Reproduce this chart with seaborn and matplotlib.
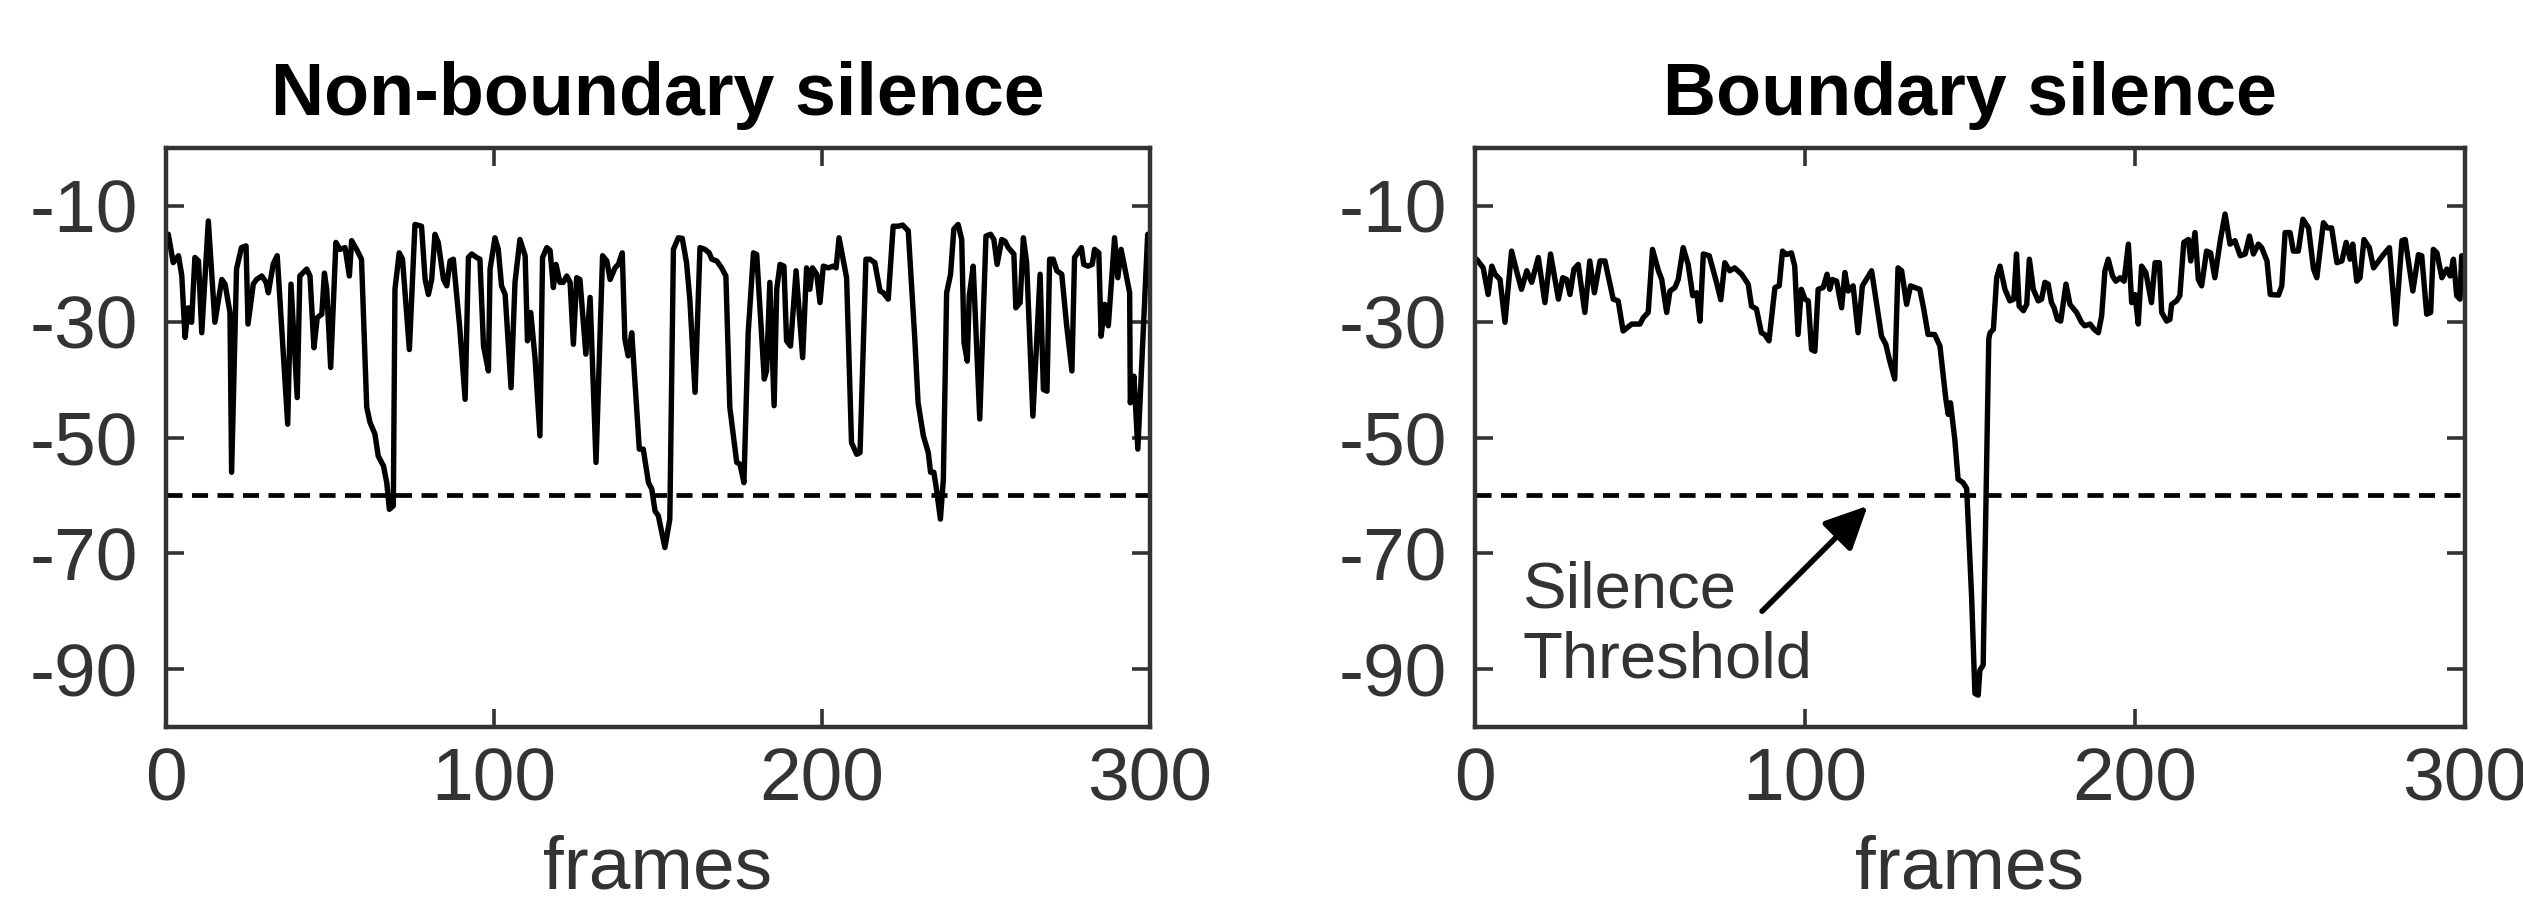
import numpy as np
import pandas as pd
import matplotlib
matplotlib.use("Agg")
import matplotlib.pyplot as plt
import seaborn as sns

# frame index / energy (dB)
nb_frames = [0.7, 2.2, 3.8, 4.8, 5.8, 6.8, 7.8, 8.8, 9.9, 10.9, 12.9, 14.9, 17.0, 18.0, 19.5, 20.0,
             21.5, 23.0, 24.4, 25.0, 26.6, 27.6, 29.2, 30.5, 31.2, 32.7, 33.9, 37.1, 38.1, 40.0,
             40.8, 42.9, 43.9, 45.1, 46.1, 47.5, 48.3, 49.0, 50.2, 51.8, 53.0, 54.6, 55.9, 56.6,
             58.1, 59.6, 61.2, 62.2, 63.7, 64.7, 66.3, 67.3, 68.1, 69.3, 69.8, 71.1, 72.1, 74.2,
             75.9, 77.9, 79.0, 80.0, 81.0, 82.0, 83.0, 84.6, 85.6, 86.6, 87.6, 89.6, 91.2, 92.2,
             93.2, 94.7, 95.7, 96.8, 98.3, 98.8, 100.3, 101.3, 102.3, 103.4, 105.2, 106.4, 107.9,
             109.5, 110.2, 111.2, 112.5, 114.0, 114.8, 116.1, 117.1, 118.1, 118.9, 120.1, 121.1,
             122.2, 123.2, 124.2, 125.2, 126.2, 128.0, 129.3, 131.1, 133.1, 134.4, 135.4, 136.9,
             137.9, 139.1, 139.9, 140.9, 142.0, 144.3, 145.5, 147.1, 148.1, 149.1, 150.1, 152.1,
             153.6, 154.7, 156.2, 157.4, 158.7, 159.7, 161.3, 162.8, 164.3, 165.6, 166.4, 167.9,
             169.4, 170.7, 171.9, 174.0, 175.0, 176.2, 177.5, 179.1, 180.1, 182.4, 183.1, 184.1,
             185.4, 186.2, 187.2, 188.4, 189.2, 190.4, 192.1, 194.1, 195.3, 196.3, 197.1, 198.4,
             199.4, 200.4, 201.9, 203.4, 204.3, 205.2, 207.5, 209.0, 210.6, 211.6, 213.4, 214.6,
             216.1, 217.7, 218.7, 220.2, 221.7, 223.3, 224.6, 226.3, 228.3, 229.3, 230.9, 232.4,
             233.1, 234.1, 234.9, 236.1, 237.0, 238.0, 239.2, 240.2, 241.5, 242.6, 243.3, 244.3,
             244.9, 246.1, 248.1, 250.0, 251.4, 252.4, 253.4, 254.8, 255.8, 256.8, 258.5, 259.1,
             260.4, 261.4, 262.4, 264.3, 266.5, 267.5, 268.6, 269.4, 270.5, 271.6, 273.1, 274.6,
             276.2, 277.0, 279.1, 279.8, 281.1, 282.4, 283.1, 284.4, 285.1, 286.2, 287.3, 289.2,
             290.2, 291.2, 293.8, 294.0, 295.1, 296.3, 299.3, 300.0]
nb_db = [-14.9, -19.8, -18.6, -22.0, -32.7, -27.6, -30.1, -18.9, -19.5, -31.9, -12.6, -30.1, -22.7,
         -23.5, -28.4, -56.0, -20.9, -17.2, -16.9, -30.4, -23.5, -22.7, -22.1, -23.2, -25.0, -20.0,
         -18.6, -47.7, -23.5, -43.1, -22.1, -20.9, -22.1, -34.5, -29.3, -28.7, -21.6, -24.4, -37.9,
         -16.3, -17.5, -17.2, -22.1, -16.0, -17.5, -19.2, -44.8, -47.4, -49.4, -53.2, -54.9, -57.8,
         -62.4, -61.8, -24.4, -18.1, -19.2, -34.8, -13.2, -13.5, -22.7, -25.3, -22.7, -14.9, -16.3,
         -22.7, -23.8, -19.5, -19.2, -31.3, -43.4, -18.9, -18.3, -18.9, -19.2, -34.2, -38.5, -20.9,
         -15.5, -17.5, -23.8, -25.3, -41.4, -23.2, -15.8, -18.6, -33.3, -28.4, -36.2, -49.7, -18.9,
         -17.2, -17.7, -24.1, -20.1, -23.2, -23.2, -22.1, -23.2, -33.9, -22.4, -22.7, -35.6, -25.8,
         -54.3, -18.6, -19.5, -22.7, -20.7, -20.1, -18.1, -33.0, -35.9, -31.9, -52.0, -52.0, -57.8,
         -58.9, -62.7, -63.5, -69.0, -64.1, -17.5, -15.5, -15.6, -19.8, -26.1, -42.2, -17.2, -17.5,
         -18.1, -19.2, -19.5, -20.7, -22.1, -44.8, -54.3, -54.6, -57.8, -31.9, -18.1, -18.4, -39.9,
         -38.5, -23.2, -44.5, -24.4, -20.1, -20.4, -33.3, -34.2, -21.2, -36.2, -20.7, -24.4, -20.7,
         -21.8, -26.7, -20.4, -20.7, -20.4, -20.7, -15.5, -22.4, -50.9, -52.9, -52.6, -19.2, -19.2,
         -19.8, -24.7, -25.0, -26.1, -13.5, -13.5, -13.3, -14.3, -33.0, -44.0, -49.7, -52.6, -56.0,
         -56.0, -58.9, -64.1, -57.2, -25.0, -21.8, -14.0, -13.2, -15.8, -33.6, -36.8, -25.5, -20.4,
         -46.8, -15.2, -14.9, -15.8, -20.1, -15.8, -16.1, -17.2, -18.3, -27.6, -26.7, -15.5, -19.8,
         -46.3, -21.8, -41.7, -42.0, -19.2, -19.2, -21.2, -21.8, -30.7, -38.5, -18.9, -17.2, -20.1,
         -20.4, -20.1, -17.5, -18.1, -32.5, -27.0, -30.7, -15.5, -22.4, -17.5, -25.0, -44.0, -39.4,
         -52.0, -14.9, -16.0]

b_frames = [0.5, 2.5, 4.0, 5.1, 6.1, 7.6, 9.1, 11.1, 12.6, 14.1, 15.7, 17.2, 19.2, 21.2, 22.9, 25.3,
            26.6, 27.8, 28.8, 30.0, 31.3, 33.3, 34.8, 36.2, 37.9, 39.4, 41.9, 43.4, 44.9, 47.5,
            50.0, 51.0, 52.5, 53.8, 55.6, 56.6, 58.1, 59.1, 60.6, 61.6, 63.1, 64.6, 66.0, 67.2,
            68.2, 69.2, 71.0, 73.2, 74.5, 75.7, 77.2, 78.7, 80.8, 82.8, 83.8, 85.3, 86.8, 87.8,
            89.1, 90.9, 92.2, 93.2, 94.4, 95.9, 96.9, 97.9, 98.9, 100.0, 101.0, 102.0, 103.0,
            104.0, 105.5, 106.7, 107.5, 108.3, 109.6, 111.1, 112.1, 113.1, 114.6, 116.1, 117.4,
            118.6, 120.2, 121.5, 123.2, 124.5, 125.7, 127.2, 128.2, 129.3, 130.8, 132.0, 133.3,
            134.8, 136.0, 137.3, 139.3, 140.9, 142.7, 143.4, 144.1, 145.4, 146.4, 147.9, 149.0,
            150.5, 151.5, 152.5, 153.0, 154.0, 155.7, 156.1, 157.1, 158.1, 159.1, 160.6, 162.1,
            163.3, 164.1, 164.9, 166.2, 167.2, 168.0, 169.2, 170.7, 171.7, 172.7, 173.7, 174.7,
            175.5, 176.5, 177.5, 179.1, 180.3, 182.3, 183.8, 184.8, 186.4, 187.6, 188.9, 189.9,
            190.9, 191.9, 193.2, 194.2, 195.5, 196.7, 198.0, 199.0, 200.0, 201.0, 202.0, 203.3,
            205.0, 206.1, 207.4, 208.1, 209.6, 210.6, 211.1, 212.6, 213.6, 214.8, 216.2, 216.9,
            218.2, 219.2, 220.2, 221.7, 222.9, 224.2, 225.9, 227.3, 228.8, 230.3, 231.9, 233.4,
            234.7, 235.9, 237.4, 238.4, 240.0, 241.0, 243.5, 244.5, 245.5, 247.0, 248.0, 249.5,
            250.9, 252.6, 254.1, 255.1, 257.1, 258.3, 259.6, 261.2, 262.7, 264.0, 265.2, 266.0,
            267.2, 268.2, 269.4, 271.0, 272.3, 275.3, 277.1, 279.0, 280.9, 281.9, 284.2, 285.9,
            286.9, 288.4, 289.6, 290.4, 291.5, 293.0, 294.5, 295.5, 296.5, 297.5, 298.5, 299.0,
            300.0]
b_db = [-19.2, -20.7, -25.3, -20.4, -21.8, -22.7, -30.1, -17.8, -21.2, -24.4, -21.2, -23.2, -18.9,
        -26.7, -18.3, -26.1, -22.4, -22.7, -25.3, -20.9, -20.1, -28.4, -19.5, -25.0, -19.5, -19.5,
        -26.1, -26.4, -31.6, -30.4, -30.4, -29.3, -28.4, -17.5, -21.2, -22.7, -28.4, -24.7, -24.1,
        -22.7, -17.2, -20.1, -25.5, -25.0, -29.9, -18.3, -18.6, -23.2, -26.2, -19.8, -21.2, -20.7,
        -21.8, -23.5, -27.3, -27.8, -31.9, -32.2, -33.3, -24.1, -23.8, -17.8, -18.4, -18.1, -20.4,
        -32.2, -24.4, -26.1, -26.4, -34.8, -35.1, -24.4, -24.1, -21.8, -24.4, -22.7, -23.0, -27.6,
        -21.5, -24.7, -23.8, -31.9, -23.8, -22.7, -21.2, -26.1, -32.5, -33.9, -36.8, -39.9, -20.7,
        -21.2, -27.0, -23.8, -24.1, -24.4, -27.8, -32.2, -32.2, -34.2, -43.4, -46.0, -44.0, -50.3,
        -57.2, -57.8, -58.8, -77.5, -94.2, -94.5, -90.2, -89.3, -33.0, -31.9, -31.3, -22.4, -20.4,
        -24.4, -26.4, -26.1, -18.3, -27.3, -28.1, -27.0, -19.2, -24.4, -26.4, -26.1, -23.2, -23.5,
        -26.7, -27.6, -29.6, -29.9, -23.5, -27.0, -28.4, -30.1, -30.7, -30.4, -31.3, -31.9, -29.0,
        -21.2, -19.2, -22.1, -23.0, -22.4, -23.0, -16.6, -26.7, -25.3, -30.4, -20.4, -21.5, -26.7,
        -19.8, -19.8, -28.4, -29.9, -29.6, -27.0, -26.4, -25.5, -16.3, -15.8, -19.5, -14.6, -22.7,
        -23.8, -17.8, -18.1, -22.4, -15.8, -11.4, -16.6, -16.0, -18.6, -18.3, -15.2, -18.3, -16.6,
        -17.2, -19.5, -25.3, -25.4, -23.8, -14.6, -14.6, -17.8, -17.8, -12.3, -13.8, -20.9, -22.4,
        -12.9, -13.8, -13.8, -19.8, -19.5, -16.3, -19.2, -16.6, -23.0, -22.4, -15.8, -17.2, -20.7,
        -18.4, -17.2, -30.4, -16.0, -15.8, -24.7, -18.4, -18.6, -28.7, -28.4, -17.5, -18.1, -22.4,
        -20.9, -22.1, -19.2, -25.5, -26.1, -18.6, -22.4]

threshold = -60
titles = ["Non-boundary silence", "Boundary silence"]
x_ticks = [0, 100, 200, 300]
y_ticks = [-10, -30, -50, -70, -90]

sns.set_style("ticks")
plt.rcParams['font.family'] = ['Liberation Sans', 'DejaVu Sans']
plt.rcParams['axes.unicode_minus'] = False
grey = '#333333'

fig = plt.figure(figsize=(25.23, 9.01), dpi=100)
ax1 = fig.add_axes([0.0658, 0.1931, 0.390, 0.6426])
ax2 = fig.add_axes([0.5846, 0.1931, 0.3924, 0.6426])

series = [(nb_frames, nb_db), (b_frames, b_db)]
for ax, (fr, db), title in zip([ax1, ax2], series, titles):
    df = pd.DataFrame({'frame': fr, 'db': db})
    sns.lineplot(data=df, x='frame', y='db', ax=ax, color='black', lw=3.9,
                 estimator=None, sort=True)
    ax.axhline(threshold, color='black', lw=3.4, ls=(0, (3.4, 2.0)))
    ax.set_xlim(0, 300)
    ax.set_ylim(-100, 0)
    ax.set_xticks(x_ticks)
    ax.set_yticks(y_ticks)
    ax.tick_params(direction='in', length=13, width=2.6, color=grey, labelcolor=grey,
                   labelsize=54, top=True, right=True)
    ax.tick_params(axis='y', pad=20)
    ax.tick_params(axis='x', pad=14)
    for s in ax.spines.values():
        s.set_color(grey)
        s.set_linewidth(3.2)
        s.set_visible(True)
    ax.set_xlabel('frames', fontsize=54, color=grey, labelpad=14)
    ax.set_ylabel('')
    ax.set_title(title, fontsize=53, fontweight='bold', color='black', pad=24)

ax2.text(14.5, -82.5, 'Silence\nThreshold', fontsize=47, color=grey, ha='left', va='center',
         linespacing=1.22)
ax2.annotate('', xy=(119, -61.8), xytext=(87, -80),
             arrowprops=dict(arrowstyle='-|>,head_length=2.6,head_width=1.25',
                             color='black', lw=4.0, shrinkA=0, shrinkB=0))

fig.savefig('out.png', dpi=100)
